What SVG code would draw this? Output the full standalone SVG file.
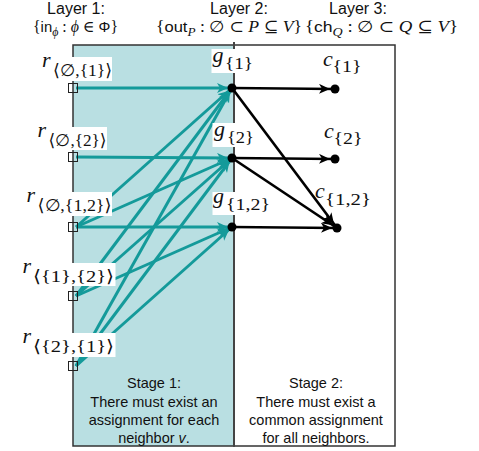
<svg xmlns="http://www.w3.org/2000/svg" width="479" height="451" viewBox="0 0 479 451">
<style>
.hd{font-family:'Liberation Sans',Arial,sans-serif;font-size:16px;fill:#111;text-anchor:middle}
.mt{font-family:'Liberation Serif','DejaVu Serif',serif;font-size:16px;fill:#111}
.sf{font-family:'Liberation Sans',Arial,sans-serif}
.it{font-style:italic}
.mv{font-family:'Liberation Serif','DejaVu Serif',serif;font-style:italic;font-size:22px;fill:#111}
.sb{font-family:'Liberation Serif','DejaVu Serif',serif;font-size:17px;fill:#111}
.st{font-family:'Liberation Sans',Arial,sans-serif;font-size:14.5px;fill:#111;text-anchor:middle}
.tl{stroke:#149a9a;stroke-width:3;fill:none;marker-end:url(#ta)}
.bl{stroke:#000;stroke-width:2.6;fill:none;marker-end:url(#ba)}
.lb{fill:#fff}
.sq{fill:none;stroke:#222;stroke-width:1}
.dot{fill:#000}
</style>
<defs>
<marker id="ta" markerUnits="userSpaceOnUse" markerWidth="16" markerHeight="12" refX="15" refY="5" orient="auto">
<path d="M0,0 L11,5 L0,10 L3,5 z" fill="#149a9a"/>
</marker>
<marker id="ba" markerUnits="userSpaceOnUse" markerWidth="18" markerHeight="12" refX="16" refY="5" orient="auto">
<path d="M0,0 L11,5 L0,10 L3,5 z" fill="#000"/>
</marker>
</defs>

<g id="headers">
<text class="hd" x="76" y="14">Layer 1:</text>
<text class="mt" x="33" y="32" textLength="85" lengthAdjust="spacingAndGlyphs">{<tspan class="sf" font-size="15">in</tspan><tspan class="it" font-size="12" dy="4">ϕ</tspan><tspan dy="-4"> :  </tspan><tspan class="it">ϕ</tspan> ∈ <tspan class="sf" font-size="15">Φ</tspan>}</text>
<text class="hd" x="239" y="14">Layer 2:</text>
<text class="mt" x="156" y="32" textLength="146" lengthAdjust="spacingAndGlyphs">{<tspan class="sf" font-size="15">out</tspan><tspan class="it" font-size="12" dy="4">P</tspan><tspan dy="-4"> :  ∅ ⊂ </tspan><tspan class="it">P</tspan> ⊆ <tspan class="it">V</tspan>}</text>
<text class="hd" x="358" y="14">Layer 3:</text>
<text class="mt" x="305" y="32" textLength="153" lengthAdjust="spacingAndGlyphs">{<tspan class="sf" font-size="15">ch</tspan><tspan class="it" font-size="12" dy="4">Q</tspan><tspan dy="-4"> :  ∅ ⊂ </tspan><tspan class="it">Q</tspan> ⊆ <tspan class="it">V</tspan>}</text>
</g>

<g id="stage1">
<rect x="73" y="45" width="161" height="401" fill="#b9dfe2" stroke="#333" stroke-width="1.5"/>
<text class="st" x="154" y="388">Stage 1:</text>
<text class="st" x="154" y="406.5">There must exist an</text>
<text class="st" x="154" y="425">assignment for each</text>
<text class="st" x="154" y="443">neighbor <tspan font-style="italic">v</tspan>.</text>
</g>
<g id="stage2">
<rect x="234" y="45" width="161" height="401" fill="#fff" stroke="#333" stroke-width="1.5"/>
<line x1="234" y1="42" x2="234" y2="446" stroke="#444" stroke-width="2"/>
<text class="st" x="316" y="388">Stage 2:</text>
<text class="st" x="316" y="406.5">There must exist a</text>
<text class="st" x="316" y="425">common assignment</text>
<text class="st" x="316" y="443">for all neighbors.</text>
</g>

<g id="connectors">
<line class="tl" x1="76" y1="88" x2="232" y2="88"/>
<line class="tl" x1="76" y1="157" x2="232" y2="158"/>
<line class="tl" x1="76" y1="227" x2="232" y2="227"/>
<line class="tl" x1="76" y1="227" x2="232" y2="88"/>
<line class="tl" x1="76" y1="227" x2="232" y2="158"/>
<line class="tl" x1="76" y1="296" x2="232" y2="88"/>
<line class="tl" x1="76" y1="296" x2="232" y2="158"/>
<line class="tl" x1="76" y1="296" x2="232" y2="227"/>
<line class="tl" x1="76" y1="366" x2="232" y2="88"/>
<line class="tl" x1="76" y1="366" x2="232" y2="158"/>
<line class="tl" x1="76" y1="366" x2="232" y2="227"/>
<line class="bl" x1="232" y1="88" x2="335" y2="89"/>
<line class="bl" x1="232" y1="88" x2="337" y2="228"/>
<line class="bl" x1="232" y1="158" x2="335" y2="159"/>
<line class="bl" x1="232" y1="158" x2="337" y2="228"/>
<line class="bl" x1="232" y1="227" x2="337" y2="228"/>
</g>

<g id="r1">
<rect class="sq" x="68.5" y="83.5" width="9" height="9"/>
<rect class="lb" x="41" y="57" width="71" height="24"/>
<text class="mv" x="42" y="67">r</text>
<text class="sb" x="53" y="76" textLength="59" lengthAdjust="spacingAndGlyphs">⟨∅,{1}⟩</text>
</g>
<g id="r2">
<rect class="sq" x="68.5" y="152.5" width="9" height="9"/>
<rect class="lb" x="36" y="127" width="71" height="23"/>
<text class="mv" x="37.5" y="137">r</text>
<text class="sb" x="48.5" y="146" textLength="58" lengthAdjust="spacingAndGlyphs">⟨∅,{2}⟩</text>
</g>
<g id="r3">
<rect class="sq" x="68.5" y="222.5" width="9" height="9"/>
<rect class="lb" x="25" y="192" width="87" height="24"/>
<text class="mv" x="26.5" y="202">r</text>
<text class="sb" x="37.5" y="211" textLength="74" lengthAdjust="spacingAndGlyphs">⟨∅,{1,2}⟩</text>
</g>
<g id="r4">
<rect class="sq" x="68.5" y="291.5" width="9" height="9"/>
<rect class="lb" x="21.5" y="263" width="94" height="23"/>
<text class="mv" x="22.5" y="273">r</text>
<text class="sb" x="33" y="282" textLength="81" lengthAdjust="spacingAndGlyphs">⟨{1},{2}⟩</text>
</g>
<g id="r5">
<rect class="sq" x="68.5" y="361.5" width="9" height="9"/>
<rect class="lb" x="21.5" y="333" width="94" height="24"/>
<text class="mv" x="22.5" y="343">r</text>
<text class="sb" x="33" y="352" textLength="81" lengthAdjust="spacingAndGlyphs">⟨{2},{1}⟩</text>
</g>

<g id="g1">
<circle class="dot" cx="232" cy="88" r="4.5"/>
<rect class="lb" x="211.5" y="49" width="42" height="24"/>
<text class="mv" x="212.5" y="62">g</text>
<text class="sb" x="225" y="69" textLength="28" lengthAdjust="spacingAndGlyphs">{1}</text>
</g>
<g id="g2">
<circle class="dot" cx="232" cy="158" r="4.5"/>
<rect class="lb" x="212.5" y="123" width="43" height="24"/>
<text class="mv" x="214" y="136">g</text>
<text class="sb" x="227" y="143" textLength="27" lengthAdjust="spacingAndGlyphs">{2}</text>
</g>
<g id="g12">
<circle class="dot" cx="232" cy="227" r="4.5"/>
<rect class="lb" x="212.5" y="192" width="59" height="23"/>
<text class="mv" x="213" y="203">g</text>
<text class="sb" x="226" y="210" textLength="44" lengthAdjust="spacingAndGlyphs">{1,2}</text>
</g>

<g id="c1">
<circle class="dot" cx="335" cy="89" r="4.5"/>
<text class="mv" x="323" y="66">c</text>
<text class="sb" x="332.5" y="72" textLength="29" lengthAdjust="spacingAndGlyphs">{1}</text>
</g>
<g id="c2">
<circle class="dot" cx="335" cy="159" r="4.5"/>
<text class="mv" x="324" y="138">c</text>
<text class="sb" x="333.5" y="144" textLength="29" lengthAdjust="spacingAndGlyphs">{2}</text>
</g>
<g id="c12">
<circle class="dot" cx="337" cy="228" r="4.5"/>
<text class="mv" x="315" y="198">c</text>
<text class="sb" x="325" y="205" textLength="46" lengthAdjust="spacingAndGlyphs">{1,2}</text>
</g>
</svg>
